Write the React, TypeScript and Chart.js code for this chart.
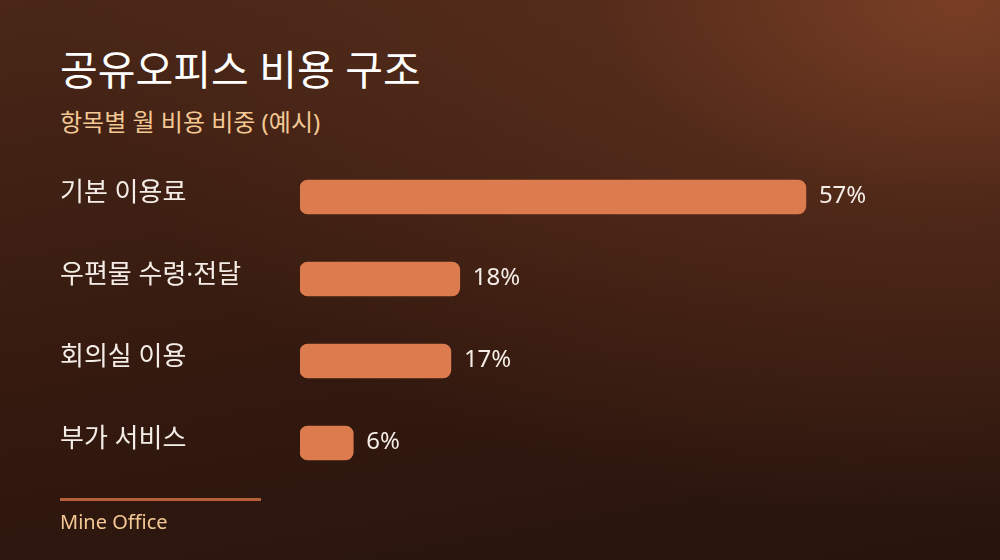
import { useEffect, useRef } from 'react';
import Chart from 'chart.js/auto';

const categories = ['기본 이용료', '우편물 수령·전달', '회의실 이용', '부가 서비스'];
const shares = [57, 18, 17, 6];
const xMax = 64;

const FONT = '"Noto Sans", "Noto Sans CJK KR", sans-serif';

export default function App() {
  const canvasRef = useRef<HTMLCanvasElement>(null);

  useEffect(() => {
    if (!canvasRef.current) return;

    // category names on the left and value labels after each bar
    const labelPlugin = {
      id: 'labels',
      afterDatasetsDraw(chart: Chart) {
        const ctx = chart.ctx;
        const meta = chart.getDatasetMeta(0);
        ctx.save();
        ctx.textBaseline = 'middle';
        meta.data.forEach((bar: any, i: number) => {
          ctx.font = `400 26px ${FONT}`;
          ctx.fillStyle = '#f4ece6';
          ctx.textAlign = 'left';
          ctx.fillText(categories[i], 60, bar.y - 3);
          ctx.font = `400 24px ${FONT}`;
          ctx.fillText(`${shares[i]}%`, bar.x + 13, bar.y - 1);
        });
        ctx.restore();
      }
    };

    const chart = new Chart(canvasRef.current, {
      type: 'bar',
      data: {
        labels: categories,
        datasets: [{
          data: shares,
          backgroundColor: '#dc7b4e',
          borderRadius: 8,
          borderSkipped: false,
          barThickness: 34
        }]
      },
      options: {
        indexAxis: 'y',
        animation: false,
        responsive: false,
        maintainAspectRatio: false,
        layout: { padding: { left: 300, right: 132, top: 156, bottom: 76 } },
        plugins: {
          legend: { display: false },
          tooltip: { enabled: false }
        },
        scales: {
          x: { display: false, min: 0, max: xMax },
          y: { display: false }
        }
      },
      plugins: [labelPlugin]
    });

    return () => chart.destroy();
  }, []);

  return (
    <div
      style={{
        position: 'fixed',
        left: 0,
        top: 0,
        width: 1000,
        height: 560,
        overflow: 'hidden',
        fontFamily: FONT,
        background:
          'radial-gradient(ellipse 900px 520px at 96% 0%, rgba(124,64,38,0.95) 0%, rgba(96,50,30,0.6) 40%, rgba(60,32,20,0) 100%), linear-gradient(170deg, #4a2718 0%, #34190f 55%, #26140d 100%)'
      }}
    >
      <div style={{ position: 'absolute', left: 60, top: 42, fontSize: 41, fontWeight: 400, color: '#ffffff', lineHeight: '54px' }}>
        공유오피스 비용 구조
      </div>
      <div style={{ position: 'absolute', left: 60, top: 105, fontSize: 24, color: '#f3c894', lineHeight: '33px' }}>
        항목별 월 비용 비중 (예시)
      </div>
      <canvas ref={canvasRef} width={1000} height={560} style={{ position: 'absolute', left: 0, top: 0 }} />
      <div style={{ position: 'absolute', left: 60, top: 498, width: 201, height: 3, background: '#b5603a' }} />
      <div style={{ position: 'absolute', left: 60, top: 508, fontSize: 20, color: '#f3c894', lineHeight: '28px' }}>
        Mine Office
      </div>
    </div>
  );
}
